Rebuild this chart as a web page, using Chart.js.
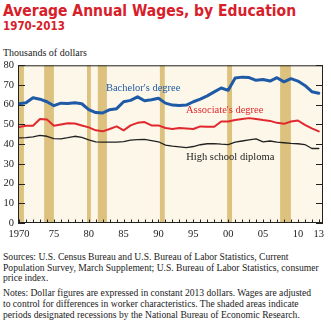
<!DOCTYPE html>
<html>
<head>
<meta charset="utf-8">
<script src="https://cdn.jsdelivr.net/npm/chart.js@4.4.1/dist/chart.umd.min.js"></script>
<style>
  body { margin: 0; background: #fff; }
  #wrap { position: relative; width: 331px; height: 326px; overflow: hidden; }
  .t { position: absolute; left: 3px; white-space: nowrap; line-height: 1; }
  #title { top: 2px; font: bold 15.5px "Liberation Sans Narrow", "DejaVu Sans Condensed", sans-serif; color: #d7202a; }
  #sub { top: 18.6px; font: bold 11.5px "Liberation Sans Narrow", "DejaVu Sans Condensed", sans-serif; color: #d7202a; }
  #unit { top: 47px; font: 10px "Liberation Serif", serif; color: #222; }
  #notes { position: absolute; left: 3px; top: 252px; font: 9.6px "Liberation Serif", serif; color: #222; line-height: 10.7px; white-space: nowrap; }
  #notes p { margin: 0 0 4px 0; }
  #c { position: absolute; left: 0; top: 55px; }
</style>
</head>
<body>
<div id="wrap">
  <div class="t" id="title">Average Annual Wages, by Education</div>
  <div class="t" id="sub">1970-2013</div>
  <div class="t" id="unit">Thousands of dollars</div>
  <canvas id="c" width="331" height="190"></canvas>
  <div id="notes">
    <p>Sources: U.S. Census Bureau and U.S. Bureau of Labor Statistics, Current<br>Population Survey, March Supplement; U.S. Bureau of Labor Statistics, consumer<br>price index.</p>
    <p>Notes: Dollar figures are expressed in constant 2013 dollars. Wages are adjusted<br>to control for differences in worker characteristics. The shaded areas indicate<br>periods designated recessions by the National Bureau of Economic Research.</p>
  </div>
</div>
<script>
const years = [1970, 1971, 1972, 1973, 1974, 1975, 1976, 1977, 1978, 1979,
               1980, 1981, 1982, 1983, 1984, 1985, 1986, 1987, 1988, 1989,
               1990, 1991, 1992, 1993, 1994, 1995, 1996, 1997, 1998, 1999,
               2000, 2001, 2002, 2003, 2004, 2005, 2006, 2007, 2008, 2009,
               2010, 2011, 2012, 2013];

const bachelors = [60.5, 61.0, 63.5, 62.8, 61.5, 59.5, 60.8, 60.6, 61.0, 60.5,
                   57.5, 56.0, 55.8, 57.5, 58.0, 61.5, 62.2, 64.0, 62.0, 62.5,
                   63.3, 60.8, 59.8, 59.6, 59.8, 61.5, 62.8, 64.5, 66.5, 68.5,
                   67.3, 73.6, 74.0, 73.8, 72.4, 72.8, 72.0, 73.7, 71.6, 73.2,
                   72.0, 69.8, 66.6, 65.8];

const associates = [48.7, 49.3, 49.3, 52.8, 52.5, 49.3, 50.0, 50.6, 50.5, 49.5,
                    48.5, 47.0, 46.5, 47.7, 49.0, 47.0, 49.5, 50.8, 51.2, 49.5,
                    49.5, 48.2, 47.7, 48.2, 48.0, 47.7, 49.0, 48.8, 48.8, 51.5,
                    51.5, 52.3, 52.8, 53.2, 52.7, 52.2, 51.8, 50.8, 50.3, 51.5,
                    52.0, 49.8, 48.0, 46.5];

const highSchool = [43.2, 43.3, 43.7, 44.5, 44.0, 42.8, 42.7, 43.3, 44.0, 43.4,
                    42.2, 41.2, 41.0, 41.0, 41.0, 41.3, 42.0, 42.3, 42.4, 41.8,
                    41.2, 39.5, 39.0, 38.6, 38.2, 38.8, 39.7, 40.2, 40.3, 40.0,
                    39.8, 41.0, 41.6, 42.2, 42.7, 41.2, 41.6, 41.0, 40.7, 40.4,
                    40.2, 39.8, 37.8, 37.8];

// shaded recession periods [start, end] as placed in the picture
const recessions = [[1970.0, 1970.7], [1973.6, 1975.0], [1979.75, 1980.3],
                    [1981.3, 1982.6], [1990.2, 1990.9], [1999.85, 2000.55],
                    [2007.45, 2009.0]];

const xTickYears = [1970, 1975, 1980, 1985, 1990, 1995, 2000, 2005, 2010, 2013];
const xTickLabels = ['1970', '75', '80', '85', '90', '95', '00', '05', '10', '13'];
const yTicks = [0, 10, 20, 30, 40, 50, 60, 70, 80];

const seriesLabels = [
  { text: "Bachelor's degree", x: 1987.8, y: 68.5, color: '#1f5aa6' },
  { text: "Associate's degree", x: 1999.5, y: 57.0, color: '#e0282e' },
  { text: 'High school diploma', x: 2000.3, y: 33.5, color: '#222' }
];

const pts = vals => years.map((yr, i) => ({ x: yr, y: vals[i] }));
const serif = 'Liberation Serif';

const frame = {
  id: 'frame',
  beforeDraw(chart) {
    const { ctx, chartArea: a, scales: { x } } = chart;
    ctx.save();
    ctx.fillStyle = '#fcf7e9';
    ctx.fillRect(a.left, a.top, a.right - a.left, a.bottom - a.top);
    ctx.fillStyle = '#dcc27e';
    recessions.forEach(([s, e]) => {
      const x0 = x.getPixelForValue(s), x1 = x.getPixelForValue(e);
      ctx.fillRect(x0, a.top, x1 - x0, a.bottom - a.top);
    });
    ctx.restore();
  },
  afterDatasetsDraw(chart) {
    const { ctx, chartArea: a, scales: { x, y } } = chart;
    ctx.save();
    ctx.strokeStyle = '#222';
    ctx.lineWidth = 1;
    ctx.strokeRect(a.left + 0.5, a.top + 0.5, a.right - a.left - 1, a.bottom - a.top - 1);
    ctx.beginPath();
    yTicks.forEach(v => {
      const py = Math.round(y.getPixelForValue(v)) + 0.5;
      ctx.moveTo(a.left, py); ctx.lineTo(a.left + 7, py);
      ctx.moveTo(a.right, py); ctx.lineTo(a.right - 7, py);
    });
    years.forEach(yr => {
      const px = Math.round(x.getPixelForValue(yr)) + 0.5;
      ctx.moveTo(px, a.bottom); ctx.lineTo(px, a.bottom - 3.5);
    });
    ctx.stroke();
    ctx.font = '10.5px ' + serif;
    ctx.textAlign = 'center';
    ctx.textBaseline = 'middle';
    seriesLabels.forEach(l => {
      ctx.fillStyle = l.color;
      ctx.fillText(l.text, x.getPixelForValue(l.x), y.getPixelForValue(l.y));
    });
    ctx.restore();
  }
};

new Chart(document.getElementById('c'), {
  type: 'line',
  data: {
    datasets: [
      { label: "High school diploma", data: pts(highSchool), borderColor: '#222', borderWidth: 1.3 },
      { label: "Associate's degree", data: pts(associates), borderColor: '#e0282e', borderWidth: 2 },
      { label: "Bachelor's degree", data: pts(bachelors), borderColor: '#1f5aa6', borderWidth: 3 }
    ]
  },
  options: {
    responsive: false,
    animation: false,
    events: [],
    layout: { padding: { top: 8, right: 8, left: 0, bottom: 0 } },
    elements: { point: { radius: 0 }, line: { tension: 0, borderJoinStyle: 'round', borderCapStyle: 'round' } },
    plugins: { legend: { display: false }, tooltip: { enabled: false } },
    scales: {
      x: {
        type: 'linear',
        min: 1969.85,
        max: 2013.6,
        grid: { display: false, drawTicks: false },
        border: { display: false },
        afterBuildTicks: s => { s.ticks = xTickYears.map(v => ({ value: v })); },
        afterFit: s => { s.height = 22; },
        ticks: {
          autoSkip: false,
          maxRotation: 0,
          padding: 5,
          color: '#222',
          font: { family: serif, size: 10.5 },
          callback: v => xTickLabels[xTickYears.indexOf(v)]
        }
      },
      y: {
        min: 0,
        max: 80,
        grid: { display: false, drawTicks: false },
        border: { display: false },
        afterBuildTicks: s => { s.ticks = yTicks.map(v => ({ value: v })); },
        afterFit: s => { s.width = 18; },
        ticks: {
          padding: 4,
          color: '#222',
          font: { family: serif, size: 10.5 }
        }
      }
    }
  },
  plugins: [frame]
});
</script>
</body>
</html>
